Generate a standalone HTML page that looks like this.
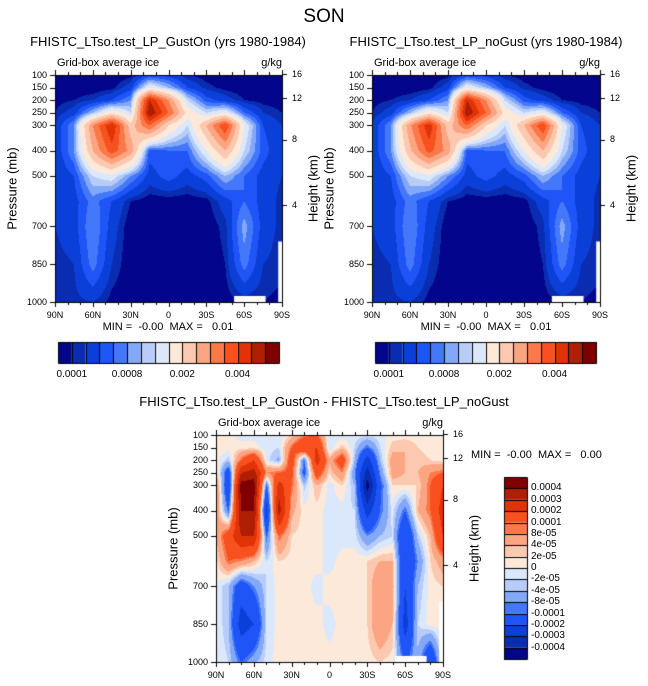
<!DOCTYPE html>
<html><head><meta charset="utf-8">
<style>
html,body{margin:0;padding:0;background:#fff;width:648px;height:686px;overflow:hidden;}
#root{position:relative;width:648px;height:686px;overflow:hidden;font-family:"Liberation Sans",Arial,sans-serif;color:#000;}
.t{position:absolute;white-space:pre;line-height:1;}
canvas{position:absolute;left:0;top:0;}
</style></head>
<body>
<div id="root">
<canvas id="cv" width="648" height="686"></canvas>
<div class="t" style="left:0;width:648px;text-align:center;top:7px;font-size:19px">SON</div>
</div>
<script>
// ---- data ----
const lats13 = [90,75,60,45,30,15,0,-15,-30,-45,-60,-75,-90];
const lats19 = [90,80,70,60,50,40,30,20,10,0,-10,-20,-30,-40,-50,-60,-70,-80,-90];
const plevs = [100,150,200,250,300,400,500,600,700,850,1000];
const pTickLabels = [100,150,200,250,300,400,500,700,850,1000];
const latTicks = [90,60,30,0,-30,-60,-90];
const latTickLabels = ["90N","60N","30N","0","30S","60S","90S"];
const heightTicks = [16,12,8,4];
// ice (units 1e-4 g/kg), GustOn
const iceGustOn = [
[0,0,0,0,0.5,4,3,1,0.3,0,0,0,0],
[0,0,0,0.5,3,15,10,4,1.5,0.5,0,0,0],
[0.5,1,2,4,8,45,30,12,5,3,1,0.5,0.3],
[1,3,10,18,12,50,35,18,12,15,6,2,1],
[2,8,30,45,22,35,20,12,25,40,15,4,2],
[2,8,25,38,28,5,6,6,15,25,12,5,2],
[2,4,12,14,8,3,5,3,5,10,6,3,2],
[2,3,7,4,1,0.2,0.2,0.2,0.5,3,6,3,1.5],
[2,3,8,3,0,0,0,0,0,1.5,9,3,1.5],
[1.5,2,7,2,0,0,0,0,0,1,7,2,1.5],
[1,1.5,2,0.5,0,0,0,0,0,0.3,1,1,0.5]];
// ice (units 1e-4 g/kg), noGust
const iceNoGust = [
[0,0,0,0,0.5,4,3,1,0.3,0,0,0,0],
[0,0,0,0.5,3,15,10,4,1.5,0.5,0,0,0],
[0.5,1,2,4,8,45,30,12,5,3,1,0.5,0.3],
[1,3,10,18,12,50,35,18,12,15,6,2,1],
[2,8,29,44,22,35,20,12,25,40,15,4,2],
[2,8,24,37,28,5,6,6,15,25,12,5,2],
[2,4,12,14,8,3,5,3,5,10,6,3,2],
[2,3,7,4,1,0.2,0.2,0.2,0.5,3,6,3,1.5],
[2,3,8,3,0,0,0,0,0,1.5,9,3,1.5],
[1.5,2,7,2,0,0,0,0,0,1,7,2,1.5],
[1,1.5,2,0.5,0,0,0,0,0,0.3,1,1,0.5]];
// difference (units 1e-5 g/kg)
const iceDiff = [
[1,1,-1,-1,-1,-1,2,8,10,-1,-1,-1,-1,-1,1,1,1,1,1],
[1,1,1,1,-1,-2,10,20,20,-2,3,-2,-10,-2,3,4,2,1,1],
[1,-3,10,20,-1,-5,15,-10,25,5,15,-4,-25,-4,6,4,3,2,1],
[4,-15,30,35,8,10,12,-12,15,2,8,-8,-35,-8,6,4,4,8,10],
[10,-20,45,45,-10,25,10,-3,4,-1,2,-4,-45,-12,2,2,2,10,20],
[8,-10,40,40,-25,35,5,1,1,-1,-1,-2,-25,-10,-1,-10,4,10,25],
[4,15,30,30,-10,10,2,1,1,-1,-1,-1,-8,-4,-2,-20,-3,4,20],
[1,10,8,4,-2,2,1,1,1,-1,1,1,2,4,4,-20,-8,2,6],
[0,-4,-15,-8,-2,1,1,1,-1,1,1,1,2,8,6,-20,-4,1,2],
[0,-4,-25,-20,-2,1,1,1,1,-1,1,1,2,8,4,-25,-2,1,1],
[0,-2,-10,-5,-1,1,1,1,1,1,1,1,1,2,1,-10,-5,-20,1]];
const iceLevels = [1,2,4,6,8,10,12,15,20,25,30,35,40,45,50];
const iceCbLabels = ["0.0001","0.0008","0.002","0.004"];
const diffLevels = [-40,-30,-20,-10,-8,-4,-2,0,2,4,8,10,20,30,40];
const diffCbLabels = ["0.0004","0.0003","0.0002","0.0001","8e-05","4e-05","2e-05","0","-2e-05","-4e-05","-8e-05","-0.0001","-0.0002","-0.0003","-0.0004"];
const colors = ["#03068a","#0a2cb0","#0a40d8","#1f55f7","#4478fa","#84a8f8","#b7ccf9","#dbe8fb","#fde9da","#fcc9b0","#fca582","#fb7848","#f9501f","#e03408","#b01e04","#800000"];

const root=document.getElementById('root');
const ctx=document.getElementById('cv').getContext('2d');
function txt(s,x,y,size,name,align,extra){
  const d=document.createElement('div');d.className='t';d.textContent=s;
  d.style.fontSize=size+'px';d.style.top=y+'px';
  if(align==='c'){d.style.left=(x-150)+'px';d.style.width='300px';d.style.textAlign='center';}
  else if(align==='r'){d.style.left=(x-60)+'px';d.style.width='60px';d.style.textAlign='right';}
  else d.style.left=x+'px';
  if(extra)Object.assign(d.style,extra);
  
  
  root.appendChild(d);return d;
}
function interp(axis,v){
  const n=axis.length;
  for(let i=0;i<n-1;i++){
    const a=axis[i],b=axis[i+1];
    if(v>=Math.min(a,b)&&v<=Math.max(a,b)){return [i,(v-a)/(b-a)];}
  }
  return [n-2,1];
}
function hToP(z){return 1013.25*Math.pow(1-2.2558e-5*z*1000,5.2559);}
function drawPanel(c){
  const X=lat=>c.x0+(90-lat)/180*c.w;
  const Y=p=>c.y0+(p-100)/900*c.h;
  for(let py=0;py<c.h;py++){
    const p=100+(py+0.5)/c.h*900;
    const [j,fy]=interp(plevs,p);
    for(let px=0;px<c.w;px++){
      const lat=90-(px+0.5)/c.w*180;
      const [i,fx]=interp(c.lats,lat);
      const v=(c.data[j][i]*(1-fx)+c.data[j][i+1]*fx)*(1-fy)+(c.data[j+1][i]*(1-fx)+c.data[j+1][i+1]*fx)*fy;
      let k=0;while(k<c.levels.length&&v>=c.levels[k])k++;
      ctx.fillStyle=colors[k];ctx.fillRect(c.x0+px,c.y0+py,1,1);
    }
  }
  ctx.fillStyle='#fff';
  ctx.fillRect(X(-52),c.y0+c.h-6,X(-77)-X(-52),6);
  ctx.fillRect(X(-87),Y(760),X(-90)-X(-87),Y(1000)-Y(760));
  ctx.strokeStyle='#000';ctx.lineWidth=1;
  ctx.strokeRect(c.x0+0.5,c.y0+0.5,c.w,c.h);
  ctx.beginPath();
  for(let lat=90;lat>=-90;lat-=10){
    const x=Math.round(X(lat))+0.5,L=(lat%30===0)?5:3;
    ctx.moveTo(x,c.y0+c.h);ctx.lineTo(x,c.y0+c.h+L);
    ctx.moveTo(x,c.y0);ctx.lineTo(x,c.y0-L);
  }
  pTickLabels.forEach(p=>{const y=Math.round(Y(p))+0.5;ctx.moveTo(c.x0,y);ctx.lineTo(c.x0-5,y);});
  heightTicks.forEach(h=>{const y=Math.round(Y(hToP(h)))+0.5;ctx.moveTo(c.x0+c.w,y);ctx.lineTo(c.x0+c.w+5,y);});
  ctx.stroke();
  latTicks.forEach((lat,k)=>txt(latTickLabels[k],X(lat),c.y0+c.h+9,9,'x-tick-label','c'));
  pTickLabels.forEach(p=>txt(String(p),c.x0-8,Y(p)-4.5,9,'y-tick-label','r'));
  heightTicks.forEach(h=>txt(String(h),c.x0+c.w+10,Y(hToP(h))-4.5,9,'height-tick-label'));
  txt('Grid-box average ice',c.x0+2,c.y0-17,11,'subtitle-left');
  txt('g/kg',c.x0+c.w,c.y0-17,11,'units-label','r');
  txt('Pressure (mb)',c.x0-43,c.y0+c.h/2-7,13,'y-axis-title','c',{transform:'rotate(-90deg)'});
  txt('Height (km)',c.x0+c.w+31,c.y0+c.h/2-7,13,'right-axis-title','c',{transform:'rotate(-90deg)'});
}
function hbar(x0,y0,w,h,labels,idx){
  const bw=w/16;
  for(let k=0;k<16;k++){ctx.fillStyle=colors[k];ctx.fillRect(x0+k*bw,y0,bw,h);}
  ctx.strokeStyle='#000';ctx.beginPath();
  for(let k=0;k<=16;k++){const x=Math.round(x0+k*bw)+0.5;ctx.moveTo(x,y0);ctx.lineTo(x,y0+h);}
  ctx.rect(x0+0.5,y0+0.5,w,h);ctx.stroke();
  labels.forEach((s,k)=>txt(s,x0+idx[k]*bw,y0+h+7,10,'colorbar-label','c'));
}
function vbar(x0,y0,w,h,labels){
  const bh=h/16;
  for(let k=0;k<16;k++){ctx.fillStyle=colors[15-k];ctx.fillRect(x0,y0+k*bh,w,bh);}
  ctx.strokeStyle='#000';ctx.beginPath();
  for(let k=0;k<=16;k++){const y=Math.round(y0+k*bh)+0.5;ctx.moveTo(x0,y);ctx.lineTo(x0+w,y);}
  ctx.rect(x0+0.5,y0+0.5,w,h);ctx.stroke();
  labels.forEach((s,k)=>txt(s,x0+w+4,y0+(k+1)*bh-5,10,'colorbar-label'));
}
drawPanel({x0:55,y0:75,w:227,h:227,data:iceGustOn,lats:lats13,levels:iceLevels});
drawPanel({x0:372,y0:75,w:228,h:227,data:iceNoGust,lats:lats13,levels:iceLevels});
drawPanel({x0:216,y0:435,w:227,h:227,data:iceDiff,lats:lats19,levels:diffLevels});
txt('FHISTC_LTso.test_LP_GustOn (yrs 1980-1984)',168,35,13,'panel-title-left','c');
txt('FHISTC_LTso.test_LP_noGust (yrs 1980-1984)',486,35,13,'panel-title-right','c');
txt('FHISTC_LTso.test_LP_GustOn - FHISTC_LTso.test_LP_noGust',324,395,13,'panel-title-diff','c',{left:'74px',width:'500px'});
txt('MIN =  -0.00  MAX =   0.01',168,322,11,'minmax-left','c');
txt('MIN =  -0.00  MAX =   0.01',486,322,11,'minmax-right','c');
txt('MIN =  -0.00  MAX =   0.00',471,450,11,'minmax-diff');
hbar(58,342,221,21,iceCbLabels,[1,5,9,13]);
hbar(375,342,221,21,iceCbLabels,[1,5,9,13]);
vbar(504,477,23,182,diffCbLabels);
</script>
</body></html>
